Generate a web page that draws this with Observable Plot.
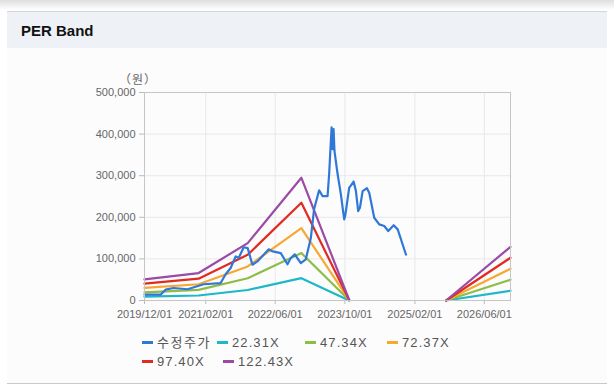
<!DOCTYPE html>
<html>
<head>
<meta charset="utf-8">
<script src="https://cdn.jsdelivr.net/npm/d3@7"></script>
<script src="https://cdn.jsdelivr.net/npm/@observablehq/plot@0.6"></script>
<style>
  html, body { margin: 0; padding: 0; background: #fff; width: 614px; height: 387px; overflow: hidden; position: relative; }
  #shadow { position: absolute; left: 0; top: 0; width: 614px; height: 10px; background: linear-gradient(#dedede, #fff); }
  #card { position: absolute; left: 7px; top: 11px; width: 600px; height: 371px; background: #fcfcfd; border-top: 1px solid #d3d6db; border-bottom: 1px solid #c9c9c9; }
  #header { height: 36px; background: #eef2f7; font: bold 15px "Liberation Sans", Arial, sans-serif; color: #111; line-height: 37px; padding-left: 14px; }
  #chart { position: absolute; left: 0; top: 60px; }
  #ylabel { position: absolute; left: 119px; top: 70px; font: 12px "Noto Sans CJK KR", sans-serif; color: #666; letter-spacing: 1px; }
  .lg { position: absolute; font: 13px "Liberation Sans", Arial, "Noto Sans CJK KR", sans-serif; color: #555; letter-spacing: 1.1px; white-space: nowrap; line-height: 16px; }
  .lg .sw { display: inline-block; width: 11px; height: 3px; vertical-align: middle; margin-right: 4px; position: relative; top: -1px; }
</style>
</head>
<body>
<div id="shadow"></div>
<div id="card"><div id="header">PER Band</div></div>
<div id="ylabel">（원）</div>
<div id="chart"></div>
<div id="legend"></div>
<script>
// ---- data ----
const priceDates = ["2019-12-01","2020-03-22","2020-04-26","2020-06-21","2020-09-27","2021-01-17","2021-05-16","2021-06-20","2021-07-25","2021-08-29","2021-09-19","2021-10-24","2021-11-21","2021-12-24","2022-01-28","2022-04-17","2022-05-15","2022-07-10","2022-08-26","2022-09-18","2022-10-16","2022-11-27","2023-01-01","2023-02-05","2023-02-28","2023-04-04","2023-04-28","2023-06-02","2023-06-13","2023-06-30","2023-07-07","2023-07-14","2023-07-20","2023-08-11","2023-09-03","2023-09-26","2023-10-03","2023-10-31","2023-12-01","2023-12-17","2024-01-02","2024-01-14","2024-02-02","2024-03-03","2024-03-19","2024-04-23","2024-05-28","2024-07-02","2024-07-30","2024-09-06","2024-10-04","2024-12-01"];
const priceValues = [14000,14000,26000,30000,27000,39000,42000,63000,78000,106000,102000,128000,126000,86000,94000,123000,118000,114000,87000,102000,111000,90000,99000,150000,220000,265000,251000,251000,304000,416000,364000,412000,360000,304000,255000,195000,203000,271000,286000,263000,215000,223000,263000,270000,259000,199000,183000,179000,167000,181000,171000,110000];

const bandDates = ["2019-12-01","2020-12-13","2021-11-21","2022-12-01","2023-10-31","2024-06-01","2025-09-07","2026-12-01"];
const band2231  = [9300, 12000, 25200, 53700, 200, null, 0, 23500];
const band4734  = [19700, 25500, 53500, 114000, 500, null, 0, 49900];
const band7237  = [30200, 39000, 81800, 174000, 700, null, 0, 76300];
const band9740  = [40600, 52500, 110000, 235000, 1000, null, 0, 102700];
const band12243 = [51000, 66000, 138000, 295000, 1200, null, 0, 129000];

const seriesNames  = ["수정주가", "22.31X", "47.34X", "72.37X", "97.40X", "122.43X"];
const seriesColors = ["#2f78d8", "#1cb7c9", "#8dbd44", "#f6a832", "#e12a20", "#9b4aa6"];

const xTickLabels = ["2019-12-01","2021-02-01","2022-06-01","2023-10-01","2025-02-01","2026-06-01"];
const yTickValues = [0, 100000, 200000, 300000, 400000, 500000];

// ---- build tables ----
const priceRows = priceDates.map((d, i) => ({date: new Date(d), value: priceValues[i]}));
const bandArrays = [band2231, band4734, band7237, band9740, band12243];
const bandRows = bandArrays.map(arr => bandDates.map((d, i) => ({date: new Date(d), value: arr[i]})));
const xTicks = xTickLabels.map(d => new Date(d));

const bandMarks = bandRows.map((rows, k) =>
  Plot.line(rows, {x: "date", y: "value", stroke: seriesColors[k + 1], strokeWidth: 2.2})
);

const chart = Plot.plot({
  width: 614,
  height: 270,
  marginTop: 32,
  marginBottom: 30,
  marginLeft: 144,
  marginRight: 104,
  style: {fontFamily: "'Liberation Sans', Arial, sans-serif", fontSize: "11px", color: "#666", background: "transparent"},
  x: {type: "utc", domain: [new Date("2019-12-01"), new Date("2026-12-01")], label: null},
  y: {domain: [0, 500000], label: null},
  marks: [
    Plot.gridY(yTickValues, {stroke: "#e8e8e8", strokeOpacity: 1}),
    Plot.gridX(xTicks, {stroke: "#e8e8e8", strokeOpacity: 1}),
    Plot.axisY(yTickValues, {tickFormat: d3.format(","), tickSize: 5, tickPadding: 4, stroke: "#bbb", fill: "#666", label: null}),
    Plot.axisX(xTicks, {tickFormat: d3.utcFormat("%Y/%m/%d"), tickSize: 4, tickPadding: 6, stroke: "#bbb", fill: "#666", label: null}),
    ...bandMarks,
    Plot.line(priceRows, {x: "date", y: "value", stroke: seriesColors[0], strokeWidth: 2.2}),
    Plot.frame({stroke: "#c6c6c6"})
  ]
});
document.getElementById("chart").appendChild(chart);

// ---- legend ----
const legendPos = [[142, 335], [217, 335], [305, 335], [387, 335], [142, 354], [223, 354]];
const legend = document.getElementById("legend");
seriesNames.forEach((name, i) => {
  const el = document.createElement("div");
  el.className = "lg";
  el.style.left = legendPos[i][0] + "px";
  el.style.top = legendPos[i][1] + "px";
  if (i === 0) el.style.letterSpacing = "1.5px";
  el.innerHTML = `<span class="sw" style="background:${seriesColors[i]}"></span>${name}`;
  legend.appendChild(el);
});
</script>
</body>
</html>
